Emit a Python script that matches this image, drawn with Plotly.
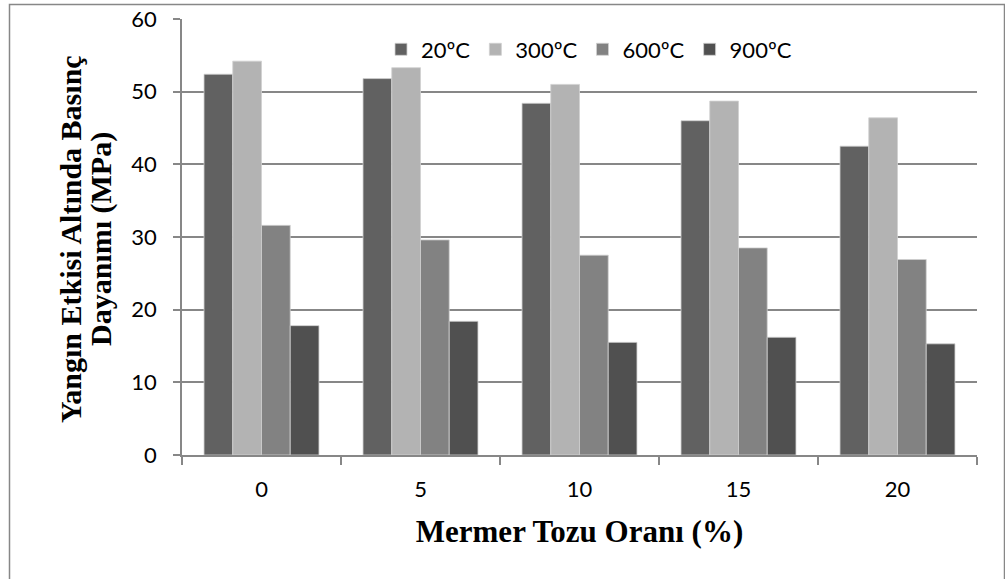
import plotly.graph_objects as go

categories = ["0", "5", "10", "15", "20"]
series_names = ["20ºC", "300ºC", "600ºC", "900ºC"]
v20 = [52.4, 51.8, 48.4, 46.0, 42.5]
v300 = [54.2, 53.3, 51.0, 48.7, 46.4]
v600 = [31.6, 29.6, 27.5, 28.5, 26.9]
v900 = [17.8, 18.4, 15.5, 16.2, 15.3]
colors = ["#616161", "#b3b3b3", "#828282", "#505050"]
y_ticks = [0, 10, 20, 30, 40, 50, 60]
y_title_lines = ["Yangın Etkisi Altında Basınç", "Dayanımı (MPa)"]

fig = go.Figure()
for name, vals, col in zip(series_names, [v20, v300, v600, v900], colors):
    fig.add_trace(go.Bar(x=categories, y=vals, name=name,
                         marker=dict(color=col, line=dict(color="#d0d0d0", width=0.8))))

L, R, T, B = 182, 28, 19, 124
W, H = 1005, 579
pw, ph = W - L - R, H - T - B

fig.update_layout(
    width=W, height=H,
    margin=dict(l=L, r=R, t=T, b=B, autoexpand=False),
    paper_bgcolor="white", plot_bgcolor="white",
    barmode="group", bargap=0.277, bargroupgap=0,
    font=dict(family="Lato, 'Open Sans', sans-serif", size=22, color="black"),
    legend=dict(orientation="h", x=(381 - L) / pw, y=(H - B - 49.5) / ph, xanchor="left", yanchor="middle",
                font=dict(size=22), bgcolor="rgba(0,0,0,0)", tracegroupgap=0),
    showlegend=True,
)
fig.update_xaxes(
    type="category", showline=True, linecolor="#878787", linewidth=1.5, automargin=False,
    ticks="outside", tickson="boundaries", ticklen=8, tickcolor="#878787", tickwidth=1.5,
    showgrid=False, tickfont=dict(size=22), ticklabelstandoff=14,
    title=dict(text="<b>Mermer Tozu Oranı (%)</b>",
               font=dict(family="'Liberation Serif', serif", size=31, color="black"), standoff=19),
)
fig.update_yaxes(
    range=[0, 60], tickvals=y_ticks, showline=True, linecolor="#878787", linewidth=1.5, automargin=False,
    ticks="outside", ticklen=7, tickcolor="#878787", tickwidth=1.5, ticklabelstandoff=12,
    showgrid=True, gridcolor="#878787", gridwidth=1.5, zeroline=False, tickfont=dict(size=22),
)

# y-axis title, two rotated lines
for line, xpx in zip(y_title_lines, [70, 101]):
    fig.add_annotation(text="<b>" + line + "</b>", textangle=-90, showarrow=False,
                       xref="paper", yref="paper", x=(xpx - L) / pw, y=(H - B - 239) / ph,
                       xanchor="center", yanchor="middle",
                       font=dict(family="'Liberation Serif', serif", size=30, color="black"))

# outer chart border
fig.add_shape(type="rect", xref="paper", yref="paper",
              x0=(9.5 - L) / pw, x1=(1004.5 - L) / pw,
              y0=(H - B - 585) / ph, y1=(H - B - 4.5) / ph,
              line=dict(color="#878787", width=1.5), fillcolor="rgba(0,0,0,0)", layer="below")

fig.write_html("out.html")
